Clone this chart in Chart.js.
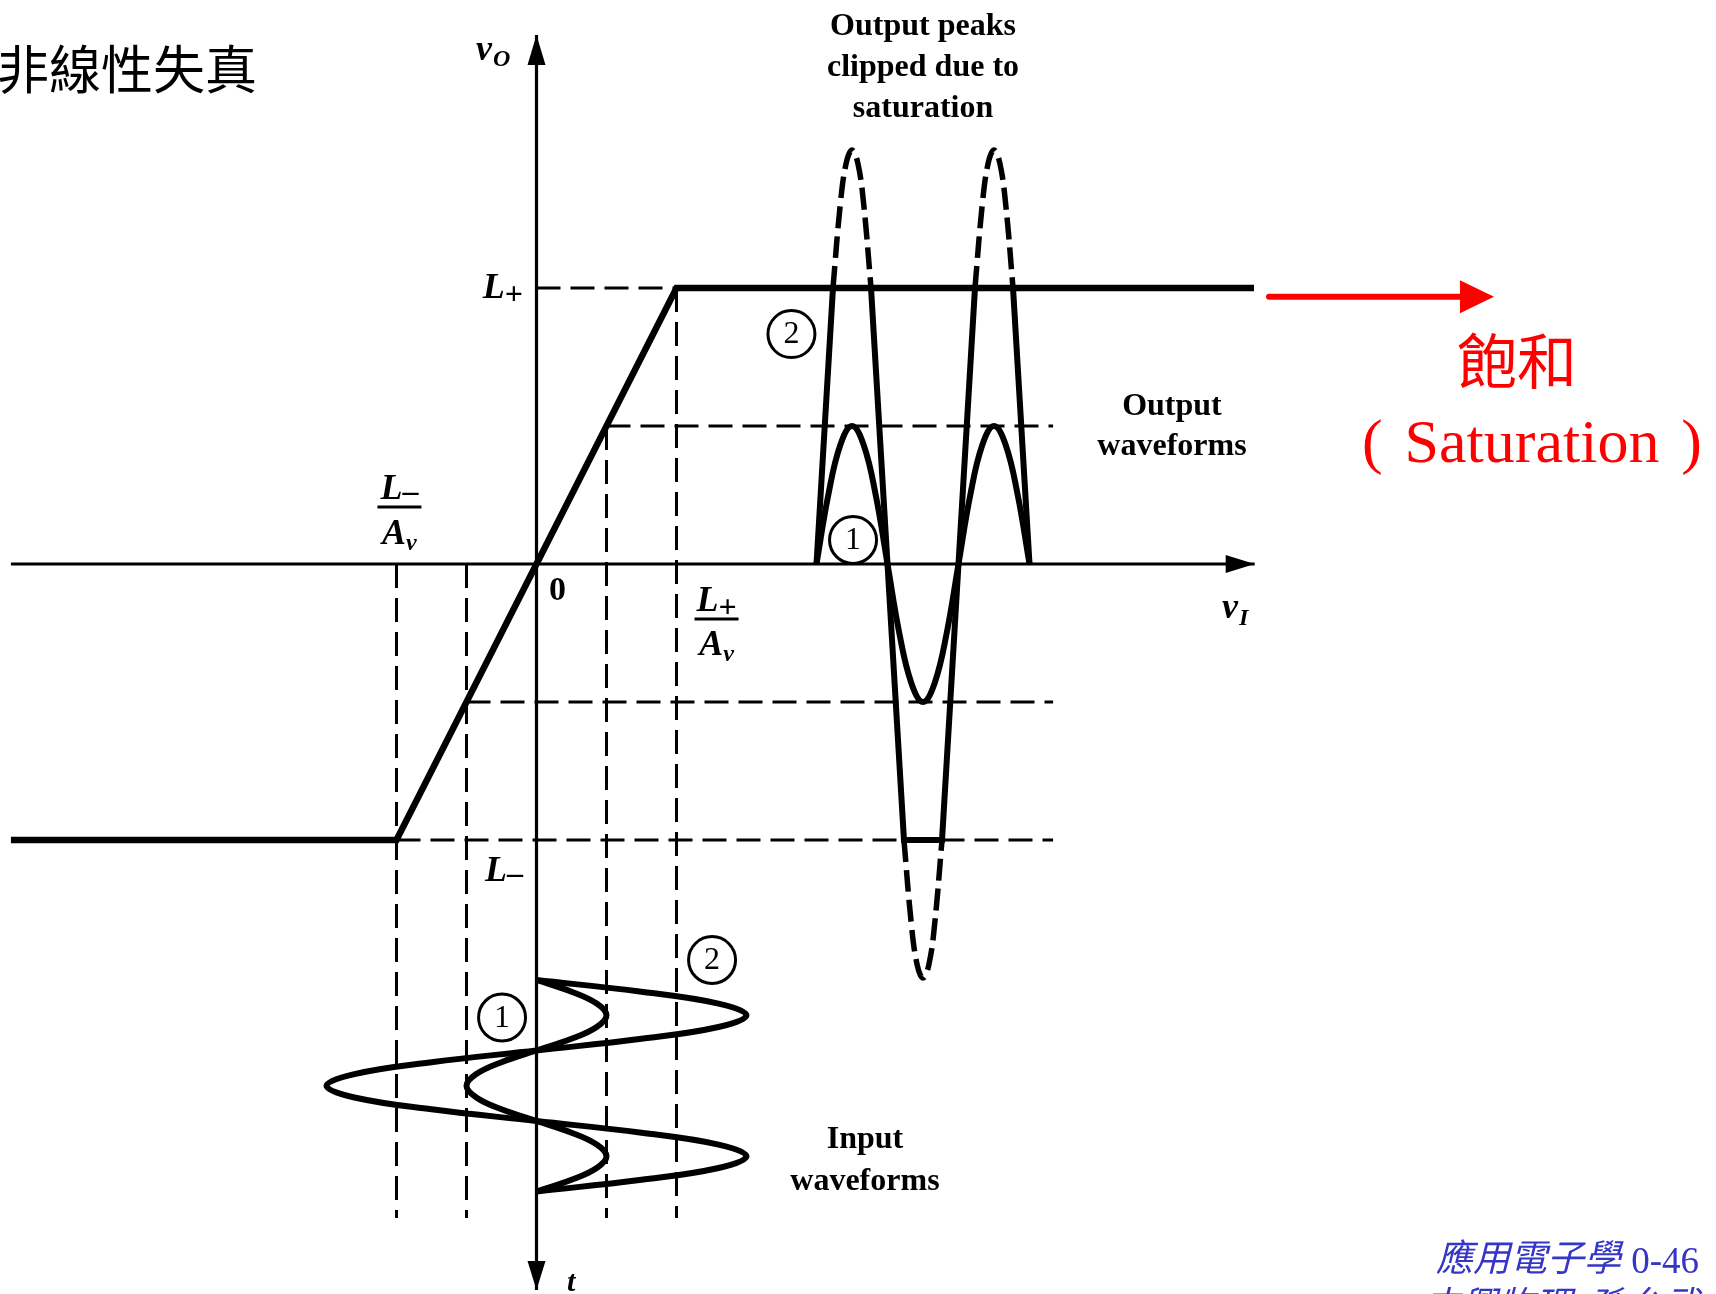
<!DOCTYPE html>
<html><head><meta charset="utf-8">
<script src="https://cdn.jsdelivr.net/npm/chart.js@4.4.1/dist/chart.umd.min.js"></script>
<style>html,body{margin:0;padding:0;background:#fff;overflow:hidden}canvas{display:block}</style>
</head><body>
<canvas id="c" width="1716" height="1294"></canvas>
<script>
// ===== data (v_I in units of L+/Av, v_O in volts-like units, t in periods) =====
const L_PLUS = 10, L_MINUS = -10;
const transferVI = [-3.754, -1, 1, 5.125];
const transferVO = [-10, -10, 10, 10];
const axisVI = [-3.754, 5.13];
const axisVOtop = 19.17;
const axisTbottom = -26.3;

// dashed guide lines
const hGuideY    = [10, 5, -5, -10];
const hGuideFrom = [0, 0.5, -0.5, -1];
const hGuideTo   = [1, 3.69, 3.69, 3.69];
const vGuideX    = [-1, -0.5, 0.5, 1];
const vGuideTop  = [0, 0, 5, 10];
const vGuideBottom = -23.7;

// output waveform 1 (small input, no clipping)
const tOut = [0, 0.083, 0.167, 0.25, 0.333, 0.417, 0.5, 0.583, 0.667, 0.75, 0.833, 0.917, 1, 1.083, 1.167, 1.25, 1.333, 1.417, 1.5];
const vo1  = [0, 2.5, 4.3, 5, 4.3, 2.5, 0, -2.5, -4.3, -5, -4.3, -2.5, 0, 2.5, 4.3, 5, 4.3, 2.5, 0];
// output waveform 2 (clipped)
const tClip  = [0, 0.116, 0.384, 0.616, 0.884, 1.116, 1.384, 1.5];
const voClip = [0, 10, 10, -10, -10, 10, 10, 0];
// unclipped (dashed) peaks of waveform 2
const tPeak1 = [0.116, 0.167, 0.208, 0.25, 0.292, 0.333, 0.384];
const tPeak2 = [0.616, 0.667, 0.708, 0.75, 0.792, 0.833, 0.884];
const tPeak3 = [1.116, 1.167, 1.208, 1.25, 1.292, 1.333, 1.384];
const vPeakUp   = [10, 13, 14.5, 15, 14.5, 13, 10];
const vPeakDown = [-10, -13, -14.5, -15, -14.5, -13, -10];

// input waveforms (time runs downward)
const tIn = [0, 0.083, 0.167, 0.25, 0.333, 0.417, 0.5, 0.583, 0.667, 0.75, 0.833, 0.917, 1, 1.083, 1.167, 1.25, 1.333, 1.417, 1.5];
const vi1 = [0, 0.25, 0.43, 0.5, 0.43, 0.25, 0, -0.25, -0.43, -0.5, -0.43, -0.25, 0, 0.25, 0.43, 0.5, 0.43, 0.25, 0];
const vi2 = [0, 0.75, 1.3, 1.5, 1.3, 0.75, 0, -0.75, -1.3, -1.5, -1.3, -0.75, 0, 0.75, 1.3, 1.5, 1.3, 0.75, 0];

// ===== helpers =====
const zip = (xs, ys) => xs.map((x, i) => ({x: x, y: ys[i]}));
const BLACK = '#000';
const datasets = [];
function line(points, opts) {
  datasets.push(Object.assign({
    data: points, showLine: true, pointRadius: 0, borderColor: BLACK,
    borderWidth: 3, tension: 0, fill: false, clip: false,
    xAxisID: 'x', yAxisID: 'y'
  }, opts || {}));
}

// axes
line(zip(axisVI, [0, 0]), {borderWidth: 3.2, arrowHead: [29, 9]});
line(zip([0, 0], [0, axisVOtop]), {borderWidth: 3.2, arrowHead: [30, 9]});
line(zip([0, 0], [0, axisTbottom]), {borderWidth: 3.2, arrowHead: [29, 9]});
// guides
hGuideY.forEach((y, i) => line(zip([hGuideFrom[i], hGuideTo[i]], [y, y]), {borderWidth: 3, borderDash: [24, 10]}));
vGuideX.forEach((x, i) => line(zip([x, x], [vGuideTop[i], vGuideBottom]), {borderWidth: 3, borderDash: [24, 10]}));
// transfer characteristic
line(zip(transferVI, transferVO), {borderWidth: 6.5});
// output waveforms
line(zip(tOut, vo1), {xAxisID: 'xt', borderWidth: 6, tension: 0.4});
line(zip(tClip, voClip), {xAxisID: 'xt', borderWidth: 6});
[[tPeak1, vPeakUp], [tPeak2, vPeakDown], [tPeak3, vPeakUp]].forEach(p =>
  line(zip(p[0], p[1]), {xAxisID: 'xt', borderWidth: 5.5, borderDash: [22, 8], tension: 0.4}));
// input waveforms
line(zip(vi1, tIn), {yAxisID: 'yt', borderWidth: 6, tension: 0.4});
line(zip(vi2, tIn), {yAxisID: 'yt', borderWidth: 6, tension: 0.4});

// ===== plugins =====
const arrowPlugin = {
  id: 'arrows',
  afterDatasetsDraw(chart) {
    const ctx = chart.ctx;
    chart.data.datasets.forEach((ds, i) => {
      if (!ds.arrowHead) return;
      const pts = chart.getDatasetMeta(i).data;
      const a = pts[pts.length - 2], b = pts[pts.length - 1];
      const ang = Math.atan2(b.y - a.y, b.x - a.x);
      const [len, half] = ds.arrowHead;
      ctx.save();
      ctx.translate(b.x, b.y); ctx.rotate(ang);
      ctx.fillStyle = ds.borderColor;
      ctx.beginPath(); ctx.moveTo(0, 0); ctx.lineTo(-len, -half); ctx.lineTo(-len, half); ctx.closePath(); ctx.fill();
      ctx.restore();
    });
  }
};

function mathText(ctx, parts, x, y, align) {
  let w = 0;
  parts.forEach(p => { ctx.font = p.f; p.w = ctx.measureText(p.t).width; w += p.w + (p.g || 0); });
  let cx = align === 'center' ? x - w / 2 : align === 'right' ? x - w : x;
  ctx.textAlign = 'left';
  parts.forEach(p => { ctx.font = p.f; cx += (p.g || 0); ctx.fillText(p.t, cx, y + (p.dy || 0)); cx += p.w; });
  return w;
}

const SERIF = '"Liberation Serif", "DejaVu Serif", serif';
const MI = 'italic bold 36px ' + SERIF;
const SUBI = 'italic bold 24px ' + SERIF;
const SUB = 'bold 32px ' + SERIF;
const TXT = 'bold 32px ' + SERIF;

const overlay = {
  id: 'overlay',
  afterDatasetsDraw(chart) {
    const ctx = chart.ctx;
    const sx = chart.scales.x, sy = chart.scales.y;
    const X = v => sx.getPixelForValue(v), Y = v => sy.getPixelForValue(v);
    ctx.save();
    ctx.fillStyle = BLACK; ctx.strokeStyle = BLACK; ctx.textBaseline = 'alphabetic';

    // axis labels
    mathText(ctx, [{t: 'v', f: MI}, {t: 'O', f: SUBI, dy: 6, g: 1}], X(-0.432), Y(18.26), 'left');
    mathText(ctx, [{t: 'v', f: MI}, {t: 'I', f: SUBI, dy: 7, g: 1}], X(4.896), Y(-1.957), 'left');
    mathText(ctx, [{t: 't', f: 'italic bold 30px ' + SERIF}], X(0.218), Y(-26.34), 'left');
    // L+ and L- on the v_O axis
    mathText(ctx, [{t: 'L', f: MI}, {t: '+', f: SUB, dy: 6}], X(-0.096), Y(9.64), 'right');
    mathText(ctx, [{t: 'L', f: MI}, {t: '\u2013', f: SUB, dy: 2}], X(-0.096), Y(-11.49), 'right');
    // fractions
    function frac(cxv, numY, barY, denY, sign) {
      const cx = X(cxv);
      mathText(ctx, [{t: 'L', f: MI}, {t: sign, f: SUB, dy: sign === '+' ? 6 : 2}], cx, Y(numY), 'center');
      ctx.lineWidth = 3;
      ctx.beginPath(); ctx.moveTo(cx - 22, Y(barY)); ctx.lineTo(cx + 22, Y(barY)); ctx.stroke();
      mathText(ctx, [{t: 'A', f: MI}, {t: 'v', f: SUBI, dy: 6}], cx, Y(denY), 'center');
    }
    frac(-0.979, 2.355, 2.065, 0.725, '\u2013');
    frac(1.286, -1.703, -1.993, -3.297, '+');
    // zero
    ctx.font = 'bold 34px ' + SERIF; ctx.textAlign = 'center';
    ctx.fillText('0', X(0.15), Y(-1.304));

    // captions
    ctx.font = TXT; ctx.textAlign = 'center';
    [['Output peaks', 19.17], ['clipped due to', 17.68], ['saturation', 16.2]].forEach(r => ctx.fillText(r[0], X(2.761), Y(r[1])));
    [['Output', 5.40], ['waveforms', 3.95]].forEach(r => ctx.fillText(r[0], X(4.539), Y(r[1])));
    [['Input', -21.16], ['waveforms', -22.68]].forEach(r => ctx.fillText(r[0], X(2.346), Y(r[1])));

    // circled numbers
    [['2', 1.821, 8.33], ['1', 2.261, 0.87], ['2', 1.254, -14.35], ['1', -0.246, -16.43]].forEach(c => {
      const px = X(c[1]), py = Y(c[2]);
      ctx.lineWidth = 3;
      ctx.beginPath(); ctx.arc(px, py, 23.5, 0, Math.PI * 2); ctx.stroke();
      ctx.font = '32px ' + SERIF; ctx.textAlign = 'center'; ctx.textBaseline = 'middle';
      ctx.fillText(c[0], px, py + 1);
      ctx.textBaseline = 'alphabetic';
    });

    // red saturation arrow and label
    const RED = '#ff0000';
    ctx.strokeStyle = RED; ctx.fillStyle = RED; ctx.lineWidth = 6; ctx.lineCap = 'round';
    const ax0 = X(5.232), ax1 = X(6.839), ay = Y(9.685);
    ctx.beginPath(); ctx.moveTo(ax0, ay); ctx.lineTo(ax1 - 30, ay); ctx.stroke();
    ctx.beginPath(); ctx.moveTo(ax1, ay); ctx.lineTo(ax1 - 34, ay - 16.5); ctx.lineTo(ax1 - 34, ay + 16.5); ctx.closePath(); ctx.fill();
    ctx.lineCap = 'butt';
    ctx.font = '60px "Noto Sans CJK TC"'; ctx.textAlign = 'center';
    ctx.fillText('飽和', 1517, 384);
    ctx.font = '62px ' + SERIF;
    ctx.textAlign = 'left'; ctx.fillText('(', 1362, 462);
    ctx.textAlign = 'center'; ctx.fillText('Saturation', 1532, 462);
    ctx.textAlign = 'right'; ctx.fillText(')', 1702, 462);

    // title
    ctx.fillStyle = BLACK; ctx.textAlign = 'left';
    ctx.font = '52px "Noto Sans CJK TC"';
    ctx.fillText('非線性失真', -3, 89);

    // footer
    const BLUE = '#3535c8';
    ctx.fillStyle = BLUE;
    ctx.textAlign = 'right';
    ctx.font = '37px ' + SERIF; ctx.fillText('0-46', 1699, 1273);
    ctx.font = 'italic 37px "Noto Sans CJK TC"'; ctx.fillText('應用電子學', 1621, 1271);
    ctx.fillText('中興物理  孫允武', 1699, 1318);
    ctx.restore();
  }
};

new Chart(document.getElementById('c'), {
  type: 'scatter',
  data: {datasets: datasets},
  options: {
    responsive: false, animation: false, devicePixelRatio: 1,
    layout: {padding: 0},
    plugins: {legend: {display: false}, tooltip: {enabled: false}, title: {display: false}},
    events: [],
    scales: {
      x:  {type: 'linear', min: -3.83214, max: 8.425, display: false},
      y:  {type: 'linear', min: -26.4493, max: 20.4348, display: false},
      xt: {type: 'linear', axis: 'x', min: -5.75, max: 6.3345, display: false},
      yt: {type: 'linear', axis: 'y', reverse: true, min: -6.9504, max: 2.2269, display: false}
    }
  },
  plugins: [arrowPlugin, overlay]
});
</script>
</body></html>
